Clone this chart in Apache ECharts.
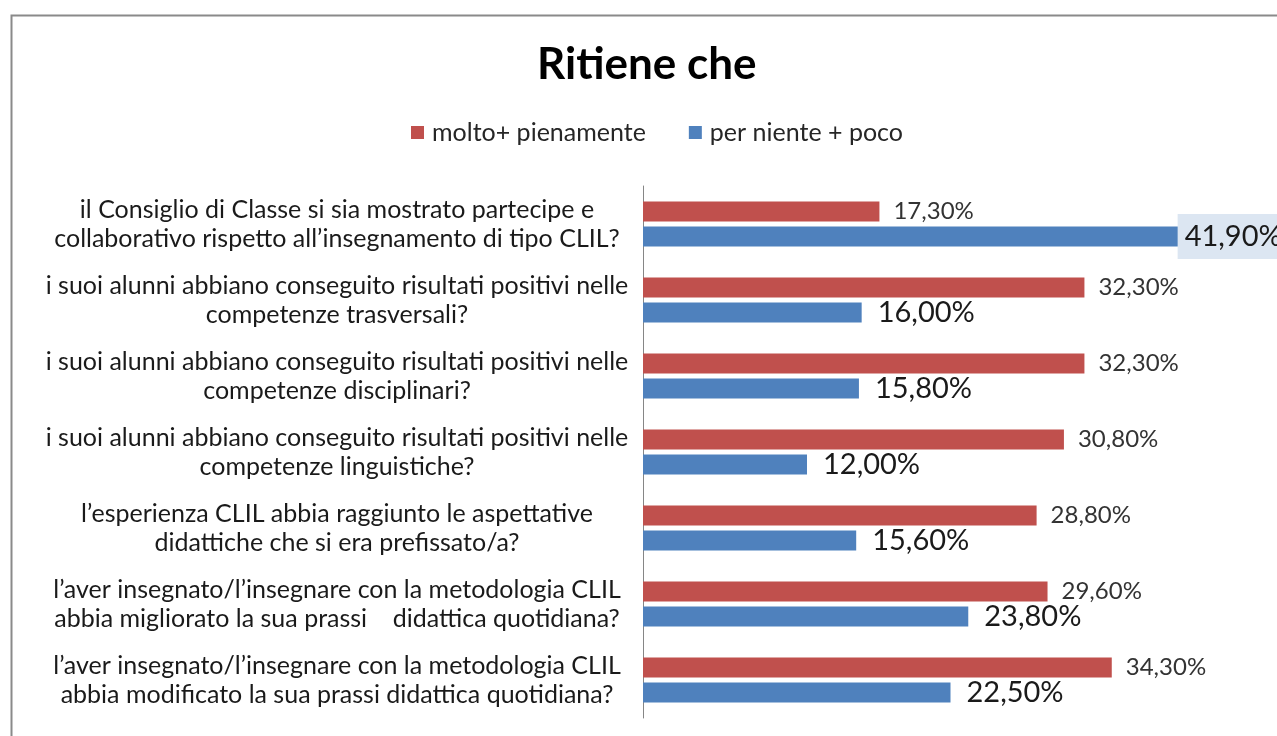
<!DOCTYPE html>
<html>
<head>
<meta charset="utf-8">
<script src="https://cdn.jsdelivr.net/npm/echarts@6/dist/echarts.min.js"></script>
<style>html,body{margin:0;padding:0;background:#fff;}#c{width:1277px;height:736px;}</style>
</head>
<body>
<div id="c"></div>
<script>
const categories = [
  "il Consiglio di Classe si sia mostrato partecipe e\ncollaborativo rispetto all’insegnamento di tipo CLIL?",
  "i suoi alunni abbiano conseguito risultati positivi nelle\ncompetenze trasversali?",
  "i suoi alunni abbiano conseguito risultati positivi nelle\ncompetenze disciplinari?",
  "i suoi alunni abbiano conseguito risultati positivi nelle\ncompetenze linguistiche?",
  "l’esperienza CLIL abbia raggiunto le aspettative\ndidattiche che si era prefissato/a?",
  "l’aver insegnato/l’insegnare con la metodologia CLIL\nabbia migliorato la sua prassi    didattica quotidiana?",
  "l’aver insegnato/l’insegnare con la metodologia CLIL\nabbia modificato la sua prassi didattica quotidiana?"
];
const seriesNames = ["molto+ pienamente", "per niente + poco"];
const moltoValues = [17.3, 32.3, 32.3, 30.8, 28.8, 29.6, 34.3];
const pocoValues = [41.9, 16.0, 15.8, 12.0, 15.6, 23.8, 22.5];
const titleText = "Ritiene che";

const fmt = p => p.value.toFixed(2).replace('.', ',') + '%';
const FONT = 'Lato';

const pocoData = pocoValues.map((v, i) => i === 0 ? {
  value: v,
  label: {
    position: 'right', distance: 0, offset: [-38, 0],
    backgroundColor: '#dce6f2', padding: [8, 7, 8, 7]
  }
} : v);

const chart = echarts.init(document.getElementById('c'), null, {renderer: 'canvas'});
chart.setOption({
  backgroundColor: '#ffffff',
  animation: false,
  graphic: [{
    type: 'rect', left: 9, top: 13, silent: true,
    shape: {width: 1400, height: 900},
    style: {fill: 'none', stroke: '#8a8a8a', lineWidth: 2}
  }],
  title: {
    text: titleText, left: 532, top: 38,
    textStyle: {fontFamily: FONT, fontWeight: 'bold', fontSize: 44, color: '#000'}
  },
  legend: {
    top: 115, left: 406, itemWidth: 13, itemHeight: 13, itemGap: 43,
    icon: 'rect',
    textStyle: {fontFamily: FONT, fontSize: 25, color: '#262626', padding: [0, 0, 0, 3]},
    data: seriesNames
  },
  grid: {left: 643, right: 19, top: 186, bottom: 18, containLabel: false},
  xAxis: {
    type: 'value', min: 0, max: 45,
    axisLabel: {show: false}, axisLine: {show: false}, axisTick: {show: false}, splitLine: {show: false}
  },
  yAxis: {
    type: 'category', inverse: true, data: categories,
    axisLine: {show: true, lineStyle: {color: '#868686', width: 1}},
    axisTick: {show: false},
    axisLabel: {
      align: 'center', margin: 306, lineHeight: 29,
      fontFamily: FONT, fontSize: 25, color: '#1a1a1a'
    }
  },
  series: [
    {
      name: seriesNames[0], type: 'bar', data: moltoValues, barWidth: 20, barGap: '25%',
      itemStyle: {color: '#c0504d'},
      label: {show: true, position: 'right', distance: 14, formatter: fmt,
        fontFamily: FONT, fontSize: 24, color: '#333333'}
    },
    {
      name: seriesNames[1], type: 'bar', data: pocoData, barWidth: 20, barGap: '25%',
      itemStyle: {color: '#4f81bd'},
      label: {show: true, position: 'right', distance: 16, formatter: fmt,
        fontFamily: FONT, fontSize: 29, color: '#1a1a1a'}
    }
  ]
});
</script>
</body>
</html>
